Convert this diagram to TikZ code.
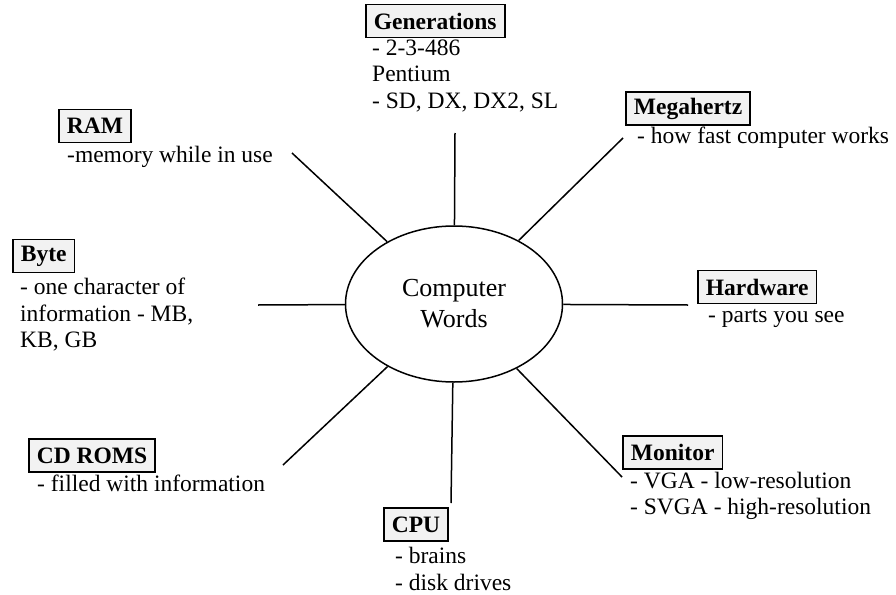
\documentclass[tikz,border=0pt]{standalone}
\usepackage{fontspec}
\setmainfont{Liberation Serif}
\usetikzlibrary{shapes.geometric}
\begin{document}
\begin{tikzpicture}[x=1pt,y=-1pt,
  label box/.style={draw=black, line width=1.8pt, fill=gray!10, font=\fontsize{23.5}{26}\selectfont\bfseries, inner xsep=8pt, inner ysep=0pt, minimum height=33pt, anchor=west},
  desc/.style={anchor=north west, inner sep=0pt, align=left, font=\fontsize{23.5}{26.5}\selectfont, execute at begin node=\strut},
  spoke/.style={line width=1.5pt}]
\useasboundingbox (0,0) rectangle (896,594);
\node[ellipse, draw, line width=1.5pt, minimum width=217pt, minimum height=156pt, inner sep=0pt, align=center, font=\fontsize{26}{31}\selectfont] (cw) at (454,304) {Computer\\Words};

\node[label box] (gen) at (365,21) {Generations};
\node[desc] (gent) at (372,39.5) {- 2-3-486\\Pentium\\- SD, DX, DX2, SL};

\node[label box] (ram) at (58,126) {RAM};
\node[desc] (ramt) at (67,144) {-memory while in use};

\node[label box] (mega) at (625,108.5) {Megahertz};
\node[desc] (megat) at (637,125) {- how fast computer works};

\node[label box] (byte) at (12,256) {Byte};
\node[desc] (bytet) at (20,278) {- one character of\\information - MB,\\KB, GB};

\node[label box] (hw) at (697,287) {Hardware};
\node[desc] (hwt) at (708,304) {- parts you see};

\node[label box] (cd) at (28,455.5) {CD ROMS};
\node[desc] (cdt) at (37,473) {- filled with information};

\node[label box] (mon) at (622,452.5) {Monitor};
\node[desc] (mont) at (630,471.5) {- VGA - low-resolution\\- SVGA - high-resolution};

\node[label box] (cpu) at (383,524.5) {CPU};
\node[desc] (cput) at (395,547) {- brains\\- disk drives};

\coordinate (eGen) at (455,133);
\coordinate (eRam) at (292,153);
\coordinate (eMega) at (623,138);
\coordinate (eByte) at (258,305);
\coordinate (eHw) at (688,305);
\coordinate (eCd) at (283,465);
\coordinate (eMon) at (622,477);
\coordinate (eCpu) at (451,503);

\foreach \e in {eGen,eRam,eMega,eByte,eHw,eCd,eMon,eCpu}
  \draw[spoke] (cw) -- (\e);
\end{tikzpicture}
\end{document}
